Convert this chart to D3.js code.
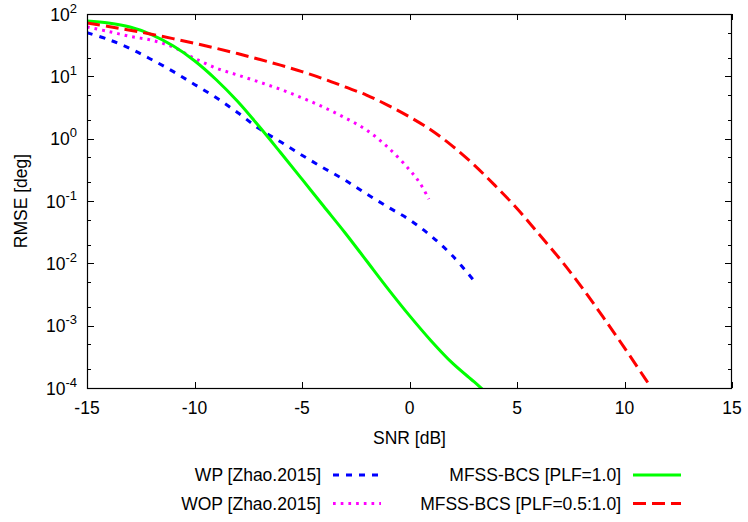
<!DOCTYPE html>
<html>
<head>
<meta charset="utf-8">
<script src="https://cdn.jsdelivr.net/npm/d3@7"></script>
<style>
  body { margin: 0; background: #fff; }
  svg { display: block; font-family: "Liberation Sans", Arial, sans-serif; }
</style>
</head>
<body>
<svg id="chart" width="748" height="522"></svg>
<script>
// ---- data ----
const xTicks = [-15, -10, -5, 0, 5, 10, 15];
const yExponents = [2, 1, 0, -1, -2, -3, -4];

const wpSNR = [-15, -14, -13, -12, -11, -10, -9, -8, -7, -6, -5, -4, -3, -2, -1, 0, 1, 2, 3];
const wpRMSE = [50.1, 38.9, 27.9, 18.6, 12.0, 7.41, 4.57, 2.63, 1.45, 0.89, 0.543, 0.339, 0.216, 0.130, 0.080, 0.050, 0.0275, 0.0132, 0.00525];

const wopSNR = [-15, -14, -13, -12, -11, -10, -9, -8, -7, -6, -5, -4, -3, -2, -1, 0, 0.5, 0.9];
const wopRMSE = [61.7, 52.5, 43.7, 38.0, 29.5, 19.5, 13.6, 10.5, 8.13, 6.17, 4.52, 3.20, 2.16, 1.38, 0.724, 0.316, 0.19, 0.107];

const mfssSNR = [-15, -14, -13, -12, -11, -10, -9, -8, -7, -6, -5, -4, -3, -2, -1, 0, 1, 2, 3, 3.4];
const mfssRMSE = [77.3, 71.6, 61.7, 46.8, 30.9, 17.8, 8.9, 3.98, 1.58, 0.60, 0.224, 0.083, 0.031, 0.011, 0.0039, 0.00145, 0.000575, 0.00025, 0.000126, 0.000095];

const plfSNR = [-15, -14, -13, -12, -11, -10, -9, -8, -7, -6, -5, -4, -3, -2, -1, 0, 1, 2, 3, 4, 5, 6, 7, 8, 9, 10, 11, 11.1];
const plfRMSE = [71.6, 63.1, 55.0, 47.3, 40.3, 33.9, 28.2, 23.2, 18.8, 15.1, 11.9, 9.12, 6.76, 5.01, 3.43, 2.24, 1.38, 0.76, 0.38, 0.174, 0.076, 0.030, 0.0117, 0.0042, 0.00138, 0.00044, 0.000135, 0.00012];

const seriesNames = ["WP [Zhao.2015]", "WOP [Zhao.2015]", "MFSS-BCS [PLF=1.0]", "MFSS-BCS [PLF=0.5:1.0]"];
const seriesColors = ["#0000ff", "#ff00ff", "#00ff00", "#ff0000"];
const seriesDash = ["6,7", "2.7,5", null, "13,6"];

// ---- layout ----
const svg = d3.select("#chart");
const L = 87, R = 732, T = 14, B = 388;
const x = d3.scaleLinear().domain([-15, 15]).range([L, R]);
const y = d3.scaleLog().domain([1e-4, 1e2]).range([B, T]);

const series = [
  {snr: wpSNR, v: wpRMSE},
  {snr: wopSNR, v: wopRMSE},
  {snr: mfssSNR, v: mfssRMSE},
  {snr: plfSNR, v: plfRMSE}
];

// clip
svg.append("clipPath").attr("id", "clip")
  .append("rect").attr("x", L).attr("y", T).attr("width", R - L).attr("height", B - T);

// ticks (major + minor), mirrored
const tickG = svg.append("g").attr("stroke", "#000").attr("stroke-width", 1);
xTicks.forEach(t => {
  const px = Math.round(x(t)) + 0.5;
  tickG.append("line").attr("x1", px).attr("x2", px).attr("y1", B).attr("y2", B - 6);
  tickG.append("line").attr("x1", px).attr("x2", px).attr("y1", T).attr("y2", T + 6);
});
yExponents.forEach(e => {
  const py = Math.round(y(Math.pow(10, e))) + 0.5;
  tickG.append("line").attr("x1", L).attr("x2", L + 7).attr("y1", py).attr("y2", py);
  tickG.append("line").attr("x1", R).attr("x2", R - 7).attr("y1", py).attr("y2", py);
  if (e > -4) {
    [2, 5].forEach(m => {
      const v = m * Math.pow(10, e - 1);
      const pm = Math.round(y(v)) + 0.5;
      tickG.append("line").attr("x1", L).attr("x2", L + 4).attr("y1", pm).attr("y2", pm);
      tickG.append("line").attr("x1", R).attr("x2", R - 4).attr("y1", pm).attr("y2", pm);
    });
  }
});

// curves
const line = d3.line().x(d => x(d[0])).y(d => y(d[1])).curve(d3.curveCatmullRom.alpha(0.5));
const curveG = svg.append("g").attr("clip-path", "url(#clip)");
series.forEach((s, i) => {
  const pts = s.snr.map((t, k) => [t, s.v[k]]);
  curveG.append("path").datum(pts)
    .attr("d", line)
    .attr("fill", "none")
    .attr("stroke", seriesColors[i])
    .attr("stroke-width", 3)
    .attr("stroke-dasharray", seriesDash[i]);
});

// frame
svg.append("rect").attr("x", L + 0.5).attr("y", T + 0.5).attr("width", R - L - 1).attr("height", B - T)
  .attr("fill", "none").attr("stroke", "#000").attr("stroke-width", 1.2);

// x tick labels
const fs = 17.5;
xTicks.forEach(t => {
  svg.append("text").attr("x", x(t)).attr("y", B + 25.5)
    .attr("text-anchor", "middle").attr("font-size", fs).attr("fill", "#000").text(t);
});

// y tick labels with superscripts
yExponents.forEach(e => {
  const py = y(Math.pow(10, e));
  const tx = svg.append("text").attr("x", L - 10).attr("y", py + 6.5)
    .attr("text-anchor", "end").attr("font-size", fs).attr("fill", "#000");
  tx.append("tspan").text("10");
  tx.append("tspan").attr("font-size", 13).attr("dy", -8).text(String(e));
});

// axis labels
svg.append("text").attr("x", (L + R) / 2).attr("y", 443.5)
  .attr("text-anchor", "middle").attr("font-size", fs).text("SNR [dB]");
svg.append("text").attr("transform", `translate(27,${(T + B) / 2}) rotate(-90)`)
  .attr("text-anchor", "middle").attr("font-size", fs).text("RMSE [deg]");

// legend
const legPos = [
  {tx: 321, sx1: 333, sx2: 381, y: 475},
  {tx: 321, sx1: 333, sx2: 381, y: 503.5},
  {tx: 621, sx1: 633, sx2: 681, y: 475},
  {tx: 621, sx1: 633, sx2: 681, y: 503.5}
];
seriesNames.forEach((name, i) => {
  const p = legPos[i];
  svg.append("text").attr("x", p.tx).attr("y", p.y + 6)
    .attr("text-anchor", "end").attr("font-size", fs).text(name);
  svg.append("line").attr("x1", p.sx1).attr("x2", p.sx2).attr("y1", p.y).attr("y2", p.y)
    .attr("stroke", seriesColors[i]).attr("stroke-width", 3)
    .attr("stroke-dasharray", seriesDash[i]);
});
</script>
</body>
</html>
